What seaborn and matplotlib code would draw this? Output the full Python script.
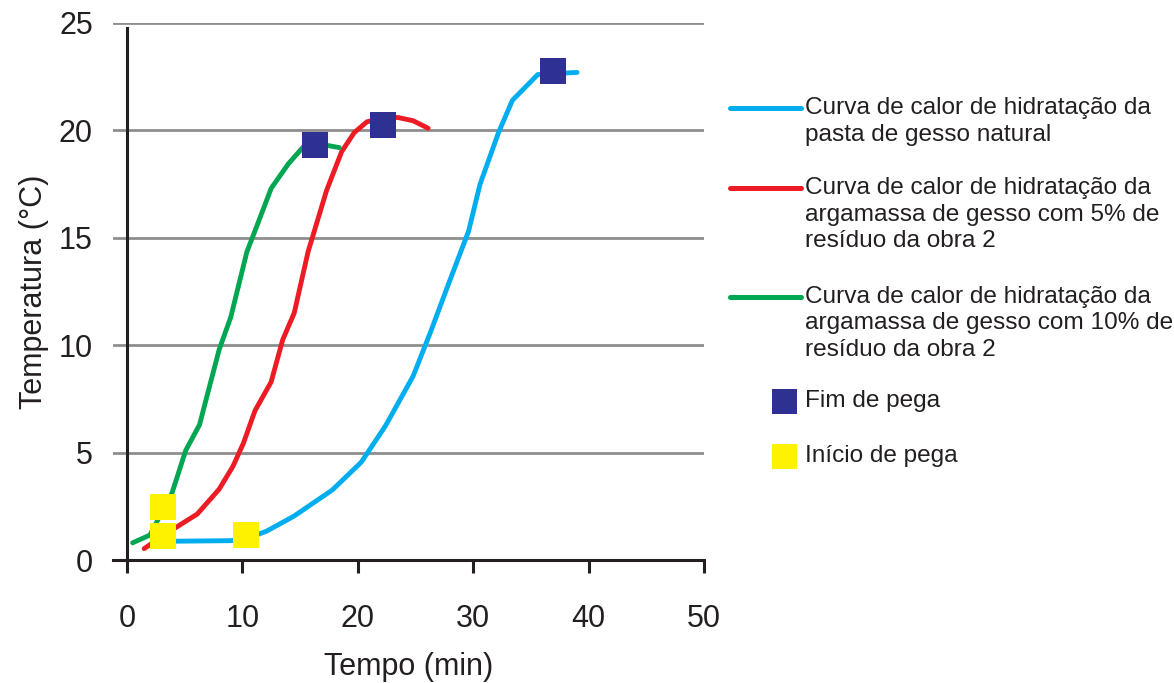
import matplotlib
matplotlib.use("Agg")
import matplotlib.pyplot as plt
from matplotlib.lines import Line2D
import seaborn as sns
import pandas as pd

# ---- data ----
blue_x = [3.2, 9.0, 10.4, 12.1, 14.5, 17.8, 20.3, 22.4, 24.8, 26.3, 27.9, 29.6, 30.6, 32.2, 33.4, 35.6, 39.0]
blue_y = [0.87, 0.9, 1.0, 1.34, 2.05, 3.26, 4.55, 6.24, 8.56, 10.6, 12.9, 15.3, 17.5, 19.9, 21.4, 22.6, 22.7]

red_x = [1.5, 3.2, 6.1, 8.0, 9.2, 10.1, 11.1, 12.5, 13.5, 14.5, 15.7, 17.3, 18.6, 19.7, 20.8, 22.3, 23.5, 24.8, 26.1]
red_y = [0.53, 1.16, 2.14, 3.3, 4.37, 5.44, 6.95, 8.29, 10.25, 11.5, 14.35, 17.2, 19.0, 19.9, 20.4, 20.6, 20.6, 20.45, 20.1]

green_x = [0.5, 2.0, 3.2, 3.9, 5.1, 6.3, 7.0, 8.0, 9.0, 10.4, 11.3, 12.5, 14.0, 15.4, 16.3, 18.4]
green_y = [0.8, 1.16, 2.4, 3.1, 5.1, 6.3, 7.75, 9.8, 11.3, 14.35, 15.6, 17.3, 18.45, 19.3, 19.4, 19.2]

inicio_x = [3.1, 3.1, 10.35]
inicio_y = [2.45, 1.12, 1.18]
fim_x = [16.3, 22.2, 36.9]
fim_y = [19.3, 20.25, 22.75]

x_ticks = [0, 10, 20, 30, 40, 50]
y_ticks = [0, 5, 10, 15, 20, 25]

labels = [
    "Curva de calor de hidratação da\npasta de gesso natural",
    "Curva de calor de hidratação da\nargamassa de gesso com 5% de\nresíduo da obra 2",
    "Curva de calor de hidratação da\nargamassa de gesso com 10% de\nresíduo da obra 2",
]
marker_labels = ["Fim de pega", "Início de pega"]

c_blue, c_red, c_green = "#00AEEF", "#ED1C24", "#00A651"
c_navy, c_yellow = "#2E3192", "#FFF200"
grid_c = "#8E8E8E"
ink = "#231F20"

sns.set_theme(style="white")
plt.rcParams["font.family"] = ["Liberation Sans", "DejaVu Sans"]

W, H = 1174, 683
fig = plt.figure(figsize=(W / 100, H / 100), dpi=100)
ax = fig.add_axes([113 / W, 1 - 560 / H, (704 - 113) / W, (560 - 23) / H])

# gridlines
for yv in y_ticks[1:]:
    ax.axhline(yv, color=grid_c, lw=2.0, zorder=0)

df_b = pd.DataFrame({"x": blue_x, "y": blue_y})
df_r = pd.DataFrame({"x": red_x, "y": red_y})
df_g = pd.DataFrame({"x": green_x, "y": green_y})
lw = 3.5
sns.lineplot(data=df_b, x="x", y="y", ax=ax, color=c_blue, lw=lw, sort=False, zorder=3)
sns.lineplot(data=df_r, x="x", y="y", ax=ax, color=c_red, lw=lw, sort=False, zorder=3)
sns.lineplot(data=df_g, x="x", y="y", ax=ax, color=c_green, lw=lw, sort=False, zorder=3)

sns.scatterplot(x=inicio_x, y=inicio_y, ax=ax, marker="s", s=330, color=c_yellow,
                edgecolor=c_yellow, linewidth=0, zorder=5)
sns.scatterplot(x=fim_x, y=fim_y, ax=ax, marker="s", s=330, color=c_navy,
                edgecolor=c_navy, linewidth=0, zorder=5)

ax.set_xlim(-1.2, 50)
ax.set_ylim(0, 25)
ax.set_xticks(x_ticks)
ax.set_yticks(y_ticks)
ax.set_xticklabels([str(v) for v in x_ticks])
ax.set_yticklabels([str(v) for v in y_ticks])

for s in ["top", "right"]:
    ax.spines[s].set_visible(False)
ax.spines["left"].set_position(("data", 0))
ax.spines["left"].set_bounds(0, 24.75)
ax.spines["left"].set_color(ink)
ax.spines["left"].set_linewidth(2.2)
ax.spines["bottom"].set_color(ink)
ax.spines["bottom"].set_linewidth(2.2)
ax.spines["bottom"].set_zorder(6)
ax.tick_params(axis="x", direction="out", length=9, width=2.2, color=ink,
               labelsize=22, labelcolor=ink, pad=23, bottom=True)
ax.tick_params(axis="y", length=0, labelsize=22, labelcolor=ink, pad=24.5, left=True)
ax.set_xlabel("Tempo (min)", fontsize=22, color=ink, labelpad=13)
ax.set_ylabel("Temperatura (°C)", fontsize=22, color=ink, labelpad=7)
ax.patch.set_alpha(0)

# ---- manual legend ----
def fx(px):
    return px / W

def fy(py):
    return 1 - py / H

line_step = 26.5
leg_entries = [(labels[0], c_blue, 108), (labels[1], c_red, 188), (labels[2], c_green, 297)]
for lab, col, y0 in leg_entries:
    fig.add_artist(Line2D([fx(730), fx(801)], [fy(y0), fy(y0)], color=col, lw=3.6,
                          transform=fig.transFigure))
    for i, ln in enumerate(lab.split("\n")):
        fig.text(fx(805), fy(y0 + i * line_step), ln, fontsize=17.6, color=ink,
                 va="center", ha="left")

for lab, col, y0 in [(marker_labels[0], c_navy, 401), (marker_labels[1], c_yellow, 456)]:
    fig.add_artist(Line2D([fx(784)], [fy(y0)], marker="s", markersize=18, color=col,
                          markeredgewidth=0, linestyle="none", transform=fig.transFigure))
    fig.text(fx(805), fy(y0), lab, fontsize=17.6, color=ink, va="center", ha="left")

fig.savefig("out.png", dpi=100)
